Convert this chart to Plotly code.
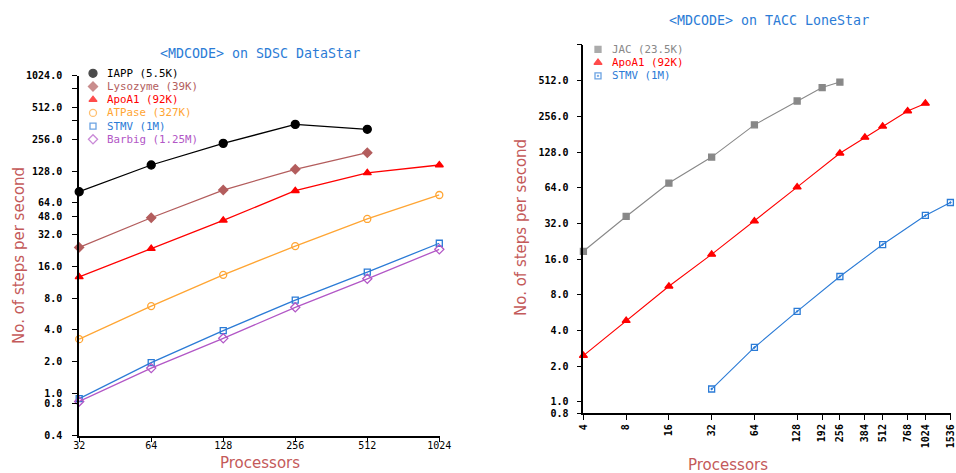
import math
import plotly.graph_objects as go

# ---------------- data: left chart (SDSC DataStar) ----------------
procs_ds = [32, 64, 128, 256, 512, 1024]
iapp = [81.5, 146, 234, 354, 318]
lysozyme = [24.2, 46.2, 84.6, 133, 191]
apoa1_ds = [12.7, 23.6, 43.7, 83.3, 123, 146]
atpase = [3.27, 6.73, 13.3, 24.9, 45, 75.9]
stmv_ds = [0.895, 1.96, 3.94, 7.68, 14.1, 26.5]
barbig = [0.84, 1.74, 3.33, 6.55, 12.2, 23.2]

# ---------------- data: right chart (TACC LoneStar) ----------------
procs_jac = [4, 8, 16, 32, 64, 128, 192, 256]
jac = [18.6, 36.6, 70, 116, 217, 345, 448, 498]
procs_apo = [4, 8, 16, 32, 64, 128, 256, 384, 512, 768, 1024]
apoa1_ls = [2.45, 4.83, 9.43, 17.5, 33.4, 64.7, 125, 170, 211, 284, 329]
procs_stmv = [32, 64, 128, 256, 512, 1024, 1536]
stmv_ls = [1.28, 2.87, 5.79, 11.4, 21.2, 37.3, 48]

# ---------------- tick labels ----------------
left_y_vals = [1024, 768, 512, 384, 256, 128, 64, 48, 32, 16, 8, 4, 2, 1, 0.8, 0.4]
left_y_text = ["1024.0", "", "512.0", "", "256.0", "128.0", "64.0", "48.0", "32.0",
               "16.0", "8.0", "4.0", "2.0", "1.0", "0.8", "0.4"]
left_x_vals = [32, 64, 128, 256, 512, 1024]
left_x_text = ["32", "64", "128", "256", "512", "1024"]
right_y_vals = [1024, 512, 256, 128, 64, 32, 16, 8, 4, 2, 1, 0.8]
right_y_text = ["", "512.0", "256.0", "128.0", "64.0", "32.0", "16.0", "8.0", "4.0",
                "2.0", "1.0", "0.8"]
right_x_vals = [4, 8, 16, 32, 64, 128, 192, 256, 384, 512, 768, 1024, 1536]
right_x_text = [str(v) for v in right_x_vals]

# ---------------- styles ----------------
C_BLACK = "#000000"
C_LYSO = "#b35d5d"
C_RED = "#ff0000"
C_ORANGE = "#ffa533"
C_BLUE = "#2b7bd6"
C_PURPLE = "#b257c6"
C_GRAY = "#888888"
C_TITLE = "#2b7bd6"
C_AXTITLE = "#c45a5a"

W, H = 956, 473
MONO = "DejaVu Sans Mono"
EPS = 0.0008

fig = go.Figure()

left_series = [
    ("IAPP (5.5K)", procs_ds[:len(iapp)], iapp, C_BLACK, "circle", 8),
    ("Lysozyme (39K)", procs_ds[:len(lysozyme)], lysozyme, C_LYSO, "diamond", 7),
    ("ApoA1 (92K)", procs_ds, apoa1_ds, C_RED, "triangle-up", 7),
    ("ATPase (327K)", procs_ds, atpase, C_ORANGE, "circle-open", 7),
    ("STMV (1M)", procs_ds, stmv_ds, C_BLUE, "square-open", 6),
    ("Barbig (1.25M)", procs_ds, barbig, C_PURPLE, "diamond-open", 7),
]
for name, x, y, c, sym, sz in left_series:
    fig.add_trace(go.Scatter(
        x=x, y=y, mode="lines+markers", name=name, showlegend=False, cliponaxis=False,
        line=dict(color=c, width=1.3),
        marker=dict(symbol=sym, size=sz, color=c, line=dict(color=c, width=1.3)),
        xaxis="x", yaxis="y"))

right_series = [
    ("JAC (23.5K)", procs_jac, jac, C_GRAY, "square", 6),
    ("ApoA1 (92K)", procs_apo, apoa1_ls, C_RED, "triangle-up", 7),
    ("STMV (1M)", procs_stmv, stmv_ls, C_BLUE, "square-open-dot", 6),
]
for name, x, y, c, sym, sz in right_series:
    fig.add_trace(go.Scatter(
        x=x, y=y, mode="lines+markers", name=name, showlegend=False, cliponaxis=False,
        line=dict(color=c, width=1.1),
        marker=dict(symbol=sym, size=sz, color=c, line=dict(color=c, width=1.3)),
        xaxis="x2", yaxis="y2"))

# ---------------- manual legends (overlay pixel axis) ----------------
def add_legend(series, x_marker, y0, dy):
    xs, ys, cols, syms, sizes = [], [], [], [], []
    for i, (name, _, _, c, sym, sz) in enumerate(series):
        yy = y0 + i * dy
        xs.append(x_marker); ys.append(yy); cols.append(c); syms.append(sym); sizes.append(sz)
        fig.add_annotation(x=x_marker + 12, y=yy, xref="x3", yref="y3", text=name,
                           showarrow=False, xanchor="left", yanchor="middle",
                           font=dict(family=MONO, size=10.8, color=c))
    fig.add_trace(go.Scatter(x=xs, y=ys, mode="markers", showlegend=False, hoverinfo="skip",
                             marker=dict(symbol=syms, size=sizes, color=cols,
                                         line=dict(color=cols, width=1.3)),
                             xaxis="x3", yaxis="y3"))

add_legend(left_series, 93, 73.3, 13.2)
add_legend(right_series, 598, 49.3, 13.3)

axis_common = dict(type="log", showgrid=False, zeroline=False, showline=True,
                   linecolor="black", linewidth=1.6, ticks="outside", ticklen=5,
                   tickwidth=1.4, tickcolor="black", tickmode="array", automargin=False,
                   ticklabeloverflow="allow")

fig.update_layout(
    width=W, height=H, margin=dict(l=0, r=0, t=0, b=0, autoexpand=False),
    paper_bgcolor="white", plot_bgcolor="rgba(0,0,0,0)", showlegend=False,
    xaxis=dict(axis_common, domain=[79 / W, 439.5 / W], anchor="y",
               range=[math.log10(32) - EPS, math.log10(1024) + EPS], ticklabelstandoff=-5,
               tickvals=left_x_vals, ticktext=left_x_text,
               tickfont=dict(family=MONO, size=10, color="black")),
    yaxis=dict(axis_common, domain=[(H - 435.6) / H, (H - 75.6) / H], anchor="x",
               range=[math.log10(0.4) - EPS, math.log10(1024) + EPS], ticklabelstandoff=8,
               tickvals=left_y_vals, ticktext=left_y_text,
               tickfont=dict(family=MONO, size=10, color="black", weight="bold")),
    xaxis2=dict(axis_common, domain=[583.3 / W, 950.5 / W], anchor="y2",
                range=[math.log10(4) - EPS, math.log10(1536) + EPS],
                tickvals=right_x_vals, ticktext=right_x_text, tickangle=-90,
                tickfont=dict(family=MONO, size=10, color="black", weight="bold")),
    yaxis2=dict(axis_common, domain=[(H - 413.3) / H, (H - 44.9) / H], anchor="x2",
                range=[math.log10(0.8) - EPS, math.log10(1024) + EPS], ticklabelstandoff=6,
                tickvals=right_y_vals, ticktext=right_y_text,
                tickfont=dict(family=MONO, size=10, color="black", weight="bold")),
    xaxis3=dict(domain=[0, 1], range=[0, W], visible=False, anchor="y3",
                fixedrange=True, automargin=False),
    yaxis3=dict(domain=[0, 1], range=[H, 0], visible=False, anchor="x3",
                fixedrange=True, automargin=False),
)

# ---------------- titles ----------------
def ann(x, y, text, size, color, family, angle=0):
    fig.add_annotation(x=x, y=y, xref="x3", yref="y3", text=text, showarrow=False,
                       xanchor="center", yanchor="middle", textangle=angle,
                       font=dict(family=family, size=size, color=color))

ann(260, 53, "&lt;MDCODE&gt; on SDSC DataStar", 13.3, C_TITLE, MONO)
ann(769, 20, "&lt;MDCODE&gt; on TACC LoneStar", 13.3, C_TITLE, MONO)
ann(19, 256, "No. of steps per second", 15, C_AXTITLE, "DejaVu Sans", -90)
ann(521, 228, "No. of steps per second", 15, C_AXTITLE, "DejaVu Sans", -90)
ann(260, 463, "Processors", 15, C_AXTITLE, "DejaVu Sans")
ann(728, 465, "Processors", 15, C_AXTITLE, "DejaVu Sans")

fig.write_html("out.html")
